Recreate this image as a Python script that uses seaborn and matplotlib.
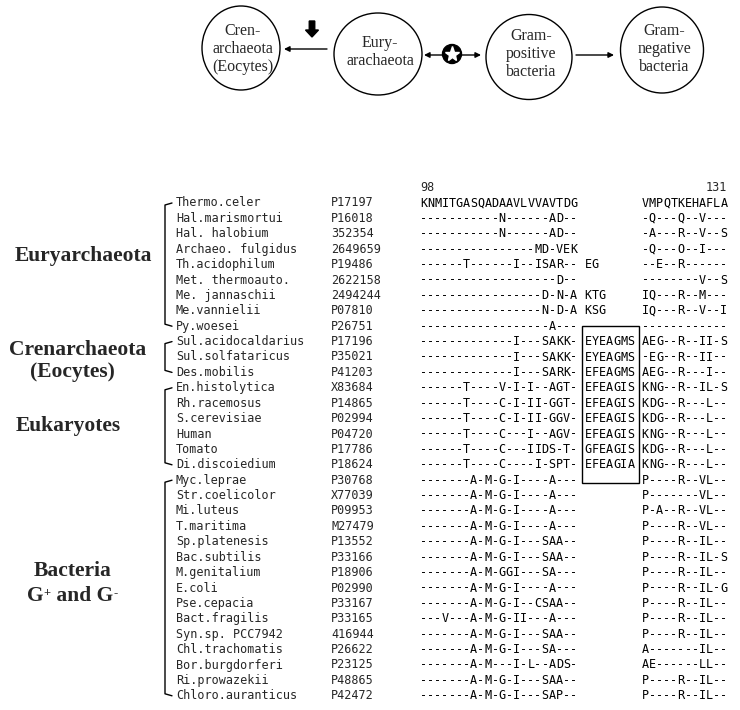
import numpy as np
import pandas as pd
import seaborn as sns
import matplotlib.pyplot as plt
from matplotlib.colors import ListedColormap
from matplotlib.patches import Ellipse, Circle, Rectangle, FancyArrow

### ALIGNMENT DATA
species = [
    "Thermo.celer", "Hal.marismortui", "Hal. halobium", "Archaeo. fulgidus",
    "Th.acidophilum", "Met. thermoauto.", "Me. jannaschii", "Me.vannielii",
    "Py.woesei", "Sul.acidocaldarius", "Sul.solfataricus", "Des.mobilis",
    "En.histolytica", "Rh.racemosus", "S.cerevisiae", "Human", "Tomato",
    "Di.discoiedium", "Myc.leprae", "Str.coelicolor", "Mi.luteus",
    "T.maritima", "Sp.platenesis", "Bac.subtilis", "M.genitalium", "E.coli",
    "Pse.cepacia", "Bact.fragilis", "Syn.sp. PCC7942", "Chl.trachomatis",
    "Bor.burgdorferi", "Ri.prowazekii", "Chloro.auranticus",
]
accessions = [
    "P17197", "P16018", "352354", "2649659", "P19486", "2622158", "2494244",
    "P07810", "P26751", "P17196", "P35021", "P41203", "X83684", "P14865",
    "P02994", "P04720", "P17786", "P18624", "P30768", "X77039", "P09953",
    "M27479", "P13552", "P33166", "P18906", "P02990", "P33167", "P33165",
    "416944", "P26622", "P23125", "P48865", "P42472",
]
core = [
    "KNMITGASQADAAVLVVAVTDG", "-----------N------AD--", "-----------N------AD--",
    "----------------MD-VEK", "------T------I--ISAR--", "-------------------D--",
    "-----------------D-N-A", "-----------------N-D-A", "------------------A---",
    "-------------I---SAKK-", "-------------I---SAKK-", "-------------I---SARK-",
    "------T----V-I-I--AGT-", "------T----C-I-II-GGT-", "------T----C-I-II-GGV-",
    "------T----C---I--AGV-", "------T----C---IIDS-T-", "------T----C----I-SPT-",
    "-------A-M-G-I----A---", "-------A-M-G-I----A---", "-------A-M-G-I----A---",
    "-------A-M-G-I----A---", "-------A-M-G-I---SAA--", "-------A-M-G-I---SAA--",
    "-------A-M-GGI---SA---", "-------A-M-G-I----A---", "-------A-M-G-I--CSAA--",
    "---V---A-M-G-II---A---", "-------A-M-G-I---SAA--", "-------A-M-G-I---SA---",
    "-------A-M---I-L--ADS-", "-------A-M-G-I---SAA--", "-------A-M-G-I---SAP--",
]
insert = [
    "", "", "", "", "EG", "", "KTG", "KSG", "",
    "EYEAGMS", "EYEAGMS", "EFEAGMS",
    "EFEAGIS", "EFEAGIS", "EFEAGIS", "EFEAGIS", "GFEAGIS", "EFEAGIA",
    "", "", "", "", "", "", "", "", "", "", "", "", "", "", "",
]
tail = [
    "VMPQTKEHAFLA", "-Q---Q--V---", "-A---R--V--S", "-Q---O--I---",
    "--E--R------", "--------V--S", "IQ---R--M---", "IQ---R--V--I",
    "------------", "AEG--R--II-S", "-EG--R--II--", "AEG--R---I--",
    "KNG--R--IL-S", "KDG--R---L--", "KDG--R---L--", "KNG--R---L--",
    "KDG--R---L--", "KNG--R---L--", "P----R--VL--", "P-------VL--",
    "P-A--R--VL--", "P----R--VL--", "P----R--IL--", "P----R--IL-S",
    "P----R--IL--", "P----R--IL-G", "P----R--IL--", "P----R--IL--",
    "P----R--IL--", "A-------IL--", "AE------LL--", "P----R--IL--",
    "P----R--IL--",
]
start_pos, end_pos = 98, 131

# group brackets: (first row, last row)
group_rows = [(0, 8), (9, 11), (12, 17), (18, 32)]
# group labels: (text, row position)
group_labels = [
    ("Euryarchaeota", 3.45), ("Crenarchaeota", 9.55), ("(Eocytes)", 11.0),
    ("Eukaryotes", 14.5), ("Bacteria", 23.9),
]
group_label_x = [83, 78, 72, 68, 73]
gram_label = ("G", "+", " and G", "-")
gram_row = 25.5

node_labels = ["Cren-\narchaeota\n(Eocytes)", "Eury-\narachaeota",
               "Gram-\npositive\nbacteria", "Gram-\nnegative\nbacteria"]

### LAYOUT (pixels)
W, H = 740, 710
ROW0, ROWH = 203, 15.4
SEQ_X, CHAR_W = 420, 7.15
NAME_X, ACC_X, BRACKET_X = 176, 331, 165
INS_COL, TAIL_COL, NCOL = 23, 31, 43
node_xy = [(241, 48), (378, 54), (529, 57), (662, 50)]
node_wh = [(78, 84), (88, 82), (86, 85), (83, 86)]
node_text_dy = [1, -2, -3, -1]

MONO = "DejaVu Sans Mono"
SERIF = ["Liberation Serif", "DejaVu Serif"]

sns.set_theme(style="white")
plt.rcParams["font.family"] = SERIF


def row_y(i):
    return ROW0 + ROWH * i


fig = plt.figure(figsize=(W / 100, H / 100), dpi=100)
ax = fig.add_axes([0, 0, 1, 1])
ax.set_xlim(0, W)
ax.set_ylim(H, 0)
ax.axis("off")

# top diagram
for label, (x, y), (w, h), dy in zip(node_labels, node_xy, node_wh,
                                     node_text_dy):
    ax.add_patch(Ellipse((x, y), w, h, fill=False, lw=1.0, ec="black"))
    ax.text(x + 2, y + dy, label, ha="center", va="center", fontsize=11.5,
            linespacing=1.18, family=SERIF)

arrow_kw = dict(arrowstyle="-|>", lw=1.0, color="black", mutation_scale=8,
                shrinkA=0, shrinkB=0)
ax.annotate("", xy=(284, 49), xytext=(327, 49), arrowprops=arrow_kw)
ax.annotate("", xy=(576, 55), xytext=(614, 55),
            arrowprops=dict(arrow_kw, arrowstyle="<|-"))
ax.annotate("", xy=(424, 55), xytext=(481, 55),
            arrowprops=dict(arrow_kw, arrowstyle="<|-|>"))
ax.add_patch(Circle((452, 54), 9.5, color="black", zorder=3))
ax.plot(452, 54, marker="*", ms=11, color="white", mec="white", zorder=4)
ax.add_patch(FancyArrow(312, 21, 0, 16, width=5.5, head_width=13,
                        head_length=7, length_includes_head=True,
                        color="black"))

# names, accessions, brackets
for i, (name, acc) in enumerate(zip(species, accessions)):
    ax.text(NAME_X, row_y(i), name, ha="left", va="center", family=MONO,
            fontsize=8.5)
    ax.text(ACC_X, row_y(i), acc, ha="left", va="center", family=MONO,
            fontsize=8.5)

for first, last in group_rows:
    y0, y1 = row_y(first), row_y(last)
    ax.plot([BRACKET_X + 7, BRACKET_X, BRACKET_X, BRACKET_X + 7],
            [y0, y0 + 2, y1 - 2, y1], color="black", lw=1.0)

label_kw = dict(fontsize=15.5, weight="bold", family=SERIF)
for (text, r), x in zip(group_labels, group_label_x):
    ax.text(x, row_y(r), text, ha="center", va="center", **label_kw)

# "G+ and G-" with small superscripts
g1 = ax.text(27, row_y(gram_row), gram_label[0], ha="left", va="center",
             **label_kw)
s1 = ax.annotate(gram_label[1], xy=(1, 0.95), xycoords=g1, ha="left",
                 va="top", fontsize=9, weight="bold", family=SERIF)
g2 = ax.annotate(gram_label[2], xy=(1, 0), xycoords=(s1, g1), ha="left",
                 va="bottom", **label_kw)
ax.annotate(gram_label[3], xy=(1, 0.95), xycoords=g2, ha="left", va="top",
            fontsize=9, weight="bold", family=SERIF)

# position numbers
ax.text(SEQ_X, row_y(-1), str(start_pos), ha="left", va="center",
        family=MONO, fontsize=8.5)
ax.text(SEQ_X + NCOL * CHAR_W, row_y(-1), str(end_pos), ha="right",
        va="center", family=MONO, fontsize=8.5)

# alignment grid
rows = []
for c, ins, t in zip(core, insert, tail):
    line = c.ljust(INS_COL) + ins.ljust(TAIL_COL - INS_COL) + t
    rows.append(list(line.ljust(NCOL)))
chars = pd.DataFrame(rows, index=species)

n = len(species)
top = ROW0 - 0.5 * ROWH
hax = fig.add_axes([SEQ_X / W, 1 - (top + n * ROWH) / H,
                    NCOL * CHAR_W / W, n * ROWH / H])
sns.heatmap(np.zeros(chars.shape), annot=chars.values, fmt="",
            cmap=ListedColormap(["white"]), cbar=False,
            xticklabels=False, yticklabels=False, ax=hax,
            annot_kws={"family": MONO, "fontsize": 8.5, "color": "black"})
hax.axis("off")

# box around the insertion
hax.add_patch(Rectangle((INS_COL - 0.4, 8.5), 8.0, 10.2, fill=False,
                        lw=1.0, ec="black", clip_on=False))

fig.savefig("out.png", dpi=100)
